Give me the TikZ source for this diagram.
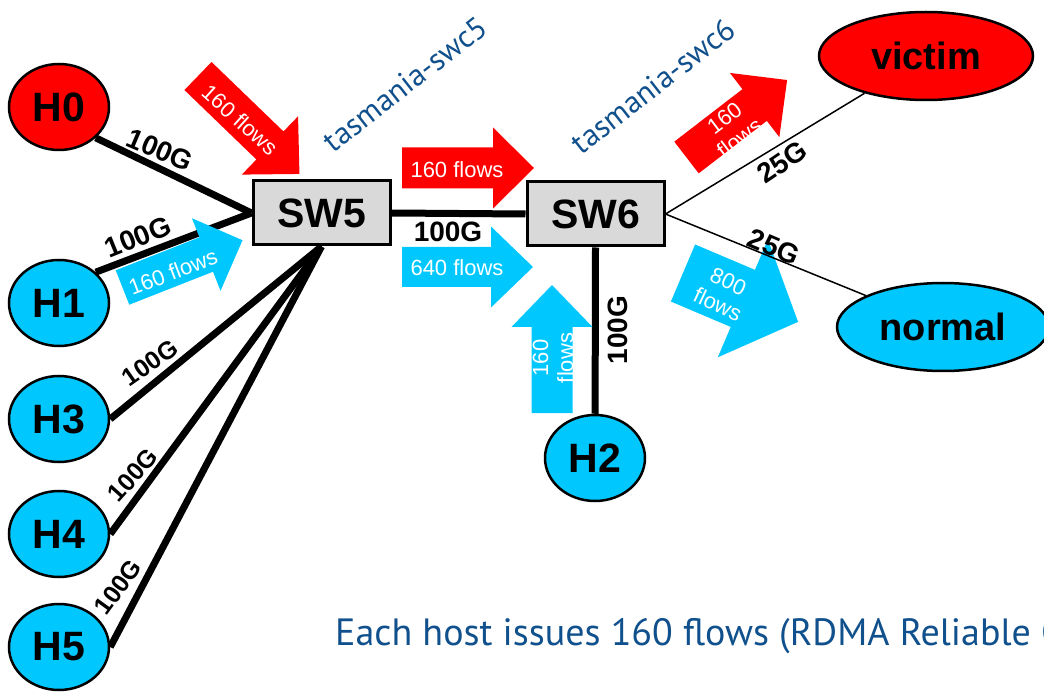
\documentclass[tikz,border=0pt]{standalone}
\usepackage{fontspec}
\setmainfont{Liberation Sans}
\newfontfamily\clearfont{PT Sans}
\usetikzlibrary{shapes.geometric}
\definecolor{hostred}{RGB}{255,0,0}
\definecolor{hostblue}{RGB}{0,200,255}
\definecolor{swgray}{RGB}{217,217,217}
\definecolor{tagblue}{RGB}{16,80,140}
\pgfdeclarelayer{links}
\pgfsetlayers{links,main}

% block arrow: tail centre x, y, angle, length, shaft width, head width, head length, colour
\newcommand\flowarrow[8]{%
  \begin{scope}[shift={(#1,#2)},rotate=#3]
    \fill[#8] (0,{-#5/2}) -- ({#4-#7},{-#5/2}) -- ({#4-#7},{-#6/2}) -- (#4,0)
      -- ({#4-#7},{#6/2}) -- ({#4-#7},{#5/2}) -- (0,{#5/2}) -- cycle;
  \end{scope}}

\begin{document}
\begin{tikzpicture}[x=1pt,y=-1pt,
  host/.style={ellipse, draw=black, line width=2.5pt, minimum width=100pt,
    minimum height=86pt, inner sep=0pt, font=\fontsize{41}{41}\selectfont\bfseries},
  switch/.style={rectangle, draw=black, line width=3pt, fill=swgray,
    minimum width=137pt, minimum height=64pt, inner sep=0pt,
    font=\fontsize{41}{41}\selectfont\bfseries},
  fat/.style={line width=7pt},
  slim/.style={line width=1.5pt},
  rate/.style={font=\fontsize{28}{28}\selectfont\bfseries, inner sep=0pt},
  ratesm/.style={font=\fontsize{25}{25}\selectfont\bfseries, inner sep=0pt},
  flowtext/.style={text=white, font=\fontsize{22}{25}\selectfont, align=center, inner sep=0pt},
  tag/.style={text=tagblue, font=\clearfont\fontsize{31}{31}\selectfont, inner sep=0pt}]
\useasboundingbox (0,0) rectangle (1044,692);
\clip (0,0) rectangle (1044,692);

% hosts and switches
\node[host, fill=hostred]  (H0) at (59,107) {H0};
\node[host, fill=hostblue] (H1) at (59,303) {H1};
\node[host, fill=hostblue] (H3) at (59,419) {H3};
\node[host, fill=hostblue] (H4) at (59,534) {H4};
\node[host, fill=hostblue] (H5) at (59,647) {H5};
\node[host, fill=hostblue] (H2) at (595,458) {H2};
\node[host, fill=hostred, minimum width=214pt, minimum height=88pt,
  font=\fontsize{38}{38}\selectfont\bfseries] (victim) at (926,56) {victim};
\node[host, fill=hostblue, minimum width=212pt, minimum height=88pt,
  font=\fontsize{38}{38}\selectfont\bfseries] (normal) at (943,327) {normal};
\node[switch] (SW5) at (321.5,213) {SW5};
\node[switch] (SW6) at (595.5,214) {SW6};

% 100G links
\begin{pgfonlayer}{links}
  \draw[fat] (H0.-40) -- (SW5.west);
  \draw[fat] (H1.40) -- (SW5.west);
  \draw[fat] (H3.east) -- (SW5.south);
  \draw[fat] (H4.east) -- (SW5.south);
  \draw[fat] (H5.east) -- (SW5.south);
  \draw[fat] (SW5.east) -- (SW6.west);
  \draw[fat] (SW6.south) -- (H2);
\end{pgfonlayer}

% traffic arrows
\flowarrow{198}{76}{-44}{141}{39}{81}{41}{hostred}
\flowarrow{122.5}{287.5}{21.5}{129}{37}{78}{39}{hostblue}
\flowarrow{402}{168}{0}{132}{41}{81}{41}{hostred}
\flowarrow{402}{267}{0}{131}{40}{81}{42}{hostblue}
\flowarrow{552}{413}{90}{128}{41}{81}{42}{hostblue}
\flowarrow{686.5}{157.5}{37.6}{127}{40}{81}{41}{hostred}
\flowarrow{683}{273}{-23}{125}{62}{128}{60}{hostblue}

\node[flowtext, rotate=-42] (f0) at (240,120) {160 flows};
\node[flowtext, rotate=21]  (f1) at (173,272) {160 flows};
\node[flowtext] (f56) at (457,170) {160 flows};
\node[flowtext] (f56b) at (457,268) {640 flows};
\node[flowtext, rotate=90] (f2) at (553,358) {160\\flows};
\node[flowtext, rotate=37] (fv) at (732,128) {160\\flows};
\node[flowtext, rotate=-25] (fn) at (723,293) {800\\flows};

% 25G links
\draw[slim] (SW6.east) -- (victim);
\draw[slim] (SW6.east) -- (normal);

% link rates
\node[rate, rotate=-23] (r0) at (160,150) {100G};
\node[rate, rotate=22]  (r1) at (138,237) {100G};
\node[ratesm, rotate=35] (r3) at (150,363) {100G};
\node[ratesm, rotate=48] (r4) at (133,475) {100G};
\node[ratesm, rotate=54] (r5) at (118,587) {100G};
\node[rate] (r56) at (448,232) {100G};
\node[rate, rotate=90] (r2) at (618,330) {100G};
\node[rate, rotate=34] (rv) at (782,162) {25G};
\node[rate, rotate=-23] (rn) at (774,247) {25G};

% switch names
\node[tag, rotate=38] (t5) at (405,84) {tasmania-swc5};
\node[tag, rotate=38] (t6) at (653,86) {tasmania-swc6};

% caption
\node[tag, anchor=base west, font=\clearfont\fontsize{38}{38}\selectfont] (cap) at (335,645)
  {Each host issues 160 flows (RDMA Reliable Connection)};
\end{tikzpicture}
\end{document}
